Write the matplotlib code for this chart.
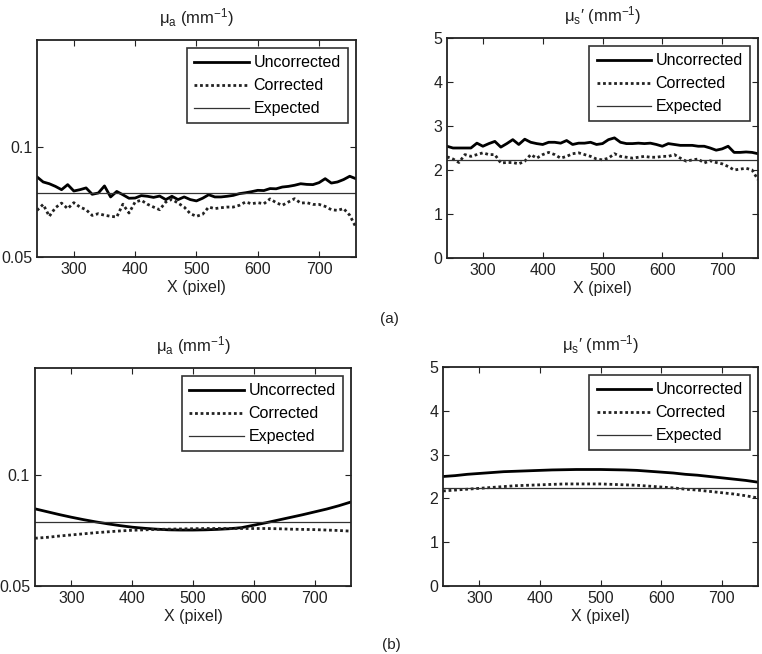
import numpy as np
import matplotlib
matplotlib.use('Agg')
import matplotlib.pyplot as plt

plt.rcParams['font.family'] = ['Liberation Sans', 'DejaVu Sans']
plt.rcParams['mathtext.default'] = 'regular'
plt.rcParams['font.size'] = 11

# (a) measured profiles, sampled every 10 pixels
x_a = np.arange(240, 770, 10)
mua_unc_a = [0.0864, 0.0841, 0.0833, 0.0821, 0.0806, 0.0829, 0.0800, 0.0806, 0.0814, 0.0785,
             0.0791, 0.0823, 0.0773, 0.0798, 0.0783, 0.0767, 0.0768, 0.0779, 0.0776, 0.0771,
             0.0777, 0.0761, 0.0776, 0.0761, 0.0773, 0.0761, 0.0755, 0.0767, 0.0783, 0.0773,
             0.0773, 0.0776, 0.0780, 0.0788, 0.0792, 0.0797, 0.0803, 0.0802, 0.0811, 0.0810,
             0.0818, 0.0821, 0.0826, 0.0833, 0.0830, 0.0829, 0.0838, 0.0856, 0.0836, 0.0841,
             0.0852, 0.0867, 0.0856]
mua_cor_a = [0.0712, 0.0739, 0.0685, 0.0724, 0.0745, 0.0720, 0.0747, 0.0727, 0.0715, 0.0689,
             0.0697, 0.0690, 0.0685, 0.0682, 0.0740, 0.0700, 0.0750, 0.0758, 0.0740, 0.0727,
             0.0715, 0.0750, 0.0762, 0.0745, 0.0727, 0.0697, 0.0685, 0.0694, 0.0727, 0.0720,
             0.0724, 0.0727, 0.0727, 0.0735, 0.0750, 0.0742, 0.0747, 0.0742, 0.0764, 0.0747,
             0.0735, 0.0750, 0.0765, 0.0745, 0.0747, 0.0739, 0.0739, 0.0730, 0.0715, 0.0712,
             0.0720, 0.0690, 0.0636]
mus_unc_a = [2.54, 2.50, 2.50, 2.50, 2.50, 2.61, 2.54, 2.60, 2.65, 2.52,
             2.60, 2.69, 2.58, 2.70, 2.63, 2.60, 2.58, 2.63, 2.63, 2.61,
             2.67, 2.58, 2.61, 2.61, 2.63, 2.58, 2.60, 2.69, 2.73, 2.63,
             2.60, 2.60, 2.61, 2.60, 2.61, 2.58, 2.54, 2.60, 2.58, 2.56,
             2.56, 2.56, 2.54, 2.54, 2.50, 2.45, 2.48, 2.54, 2.40, 2.40,
             2.41, 2.40, 2.37]
mus_cor_a = [2.30, 2.25, 2.17, 2.35, 2.31, 2.35, 2.39, 2.35, 2.35, 2.16,
             2.17, 2.17, 2.14, 2.20, 2.35, 2.27, 2.35, 2.40, 2.35, 2.27,
             2.31, 2.37, 2.39, 2.35, 2.31, 2.25, 2.23, 2.27, 2.37, 2.31,
             2.29, 2.27, 2.29, 2.31, 2.29, 2.29, 2.31, 2.31, 2.35, 2.27,
             2.20, 2.23, 2.25, 2.16, 2.21, 2.17, 2.14, 2.08, 2.00, 2.02,
             2.04, 2.00, 1.78]

# (b) simulated profiles, sampled every 20 pixels
x_b = np.arange(240, 780, 20)
mua_unc_b = [0.0849, 0.0836, 0.0823, 0.0811, 0.0800, 0.0790, 0.0781, 0.0773, 0.0766, 0.0761,
             0.0757, 0.0754, 0.0753, 0.0753, 0.0754, 0.0756, 0.0759, 0.0764, 0.0775, 0.0786,
             0.0798, 0.0810, 0.0822, 0.0835, 0.0848, 0.0863, 0.0880]
mua_cor_b = [0.0716, 0.0720, 0.0726, 0.0731, 0.0736, 0.0741, 0.0745, 0.0749, 0.0752, 0.0754,
             0.0756, 0.0757, 0.0758, 0.0759, 0.0760, 0.0760, 0.0760, 0.0760, 0.0760, 0.0760,
             0.0759, 0.0757, 0.0756, 0.0755, 0.0753, 0.0751, 0.0748]
mus_unc_b = [2.50, 2.52, 2.55, 2.57, 2.59, 2.61, 2.62, 2.63, 2.64, 2.65,
             2.655, 2.66, 2.66, 2.66, 2.655, 2.65, 2.64, 2.62, 2.60, 2.58,
             2.55, 2.53, 2.50, 2.47, 2.44, 2.41, 2.37]
mus_cor_b = [2.17, 2.19, 2.21, 2.23, 2.25, 2.27, 2.29, 2.30, 2.31, 2.32,
             2.33, 2.33, 2.33, 2.33, 2.32, 2.31, 2.30, 2.28, 2.26, 2.24,
             2.21, 2.19, 2.16, 2.13, 2.10, 2.06, 2.01]

mua_expected = 0.079
mus_expected = 2.23

fig = plt.figure(figsize=(7.62, 6.54), dpi=100)

# axes rectangles in figure fractions [left, bottom, width, height]
rects = [[0.0486, 0.607, 0.4184, 0.3318],
         [0.5866, 0.6055, 0.4082, 0.3364],
         [0.0459, 0.104, 0.4147, 0.3333],
         [0.5814, 0.104, 0.4134, 0.3348]]

panels = [(x_a, mua_unc_a, mua_cor_a, mua_expected, 'mua'),
          (x_a, mus_unc_a, mus_cor_a, mus_expected, 'mus'),
          (x_b, mua_unc_b, mua_cor_b, mua_expected, 'mua'),
          (x_b, mus_unc_b, mus_cor_b, mus_expected, 'mus')]

txt = '#222222'
for rect, (x, unc, cor, exp_val, kind) in zip(rects, panels):
    ax = fig.add_axes(rect)
    ax.plot(x, unc, color='black', lw=2.0, label='Uncorrected')
    ax.plot(x, cor, color='#222222', lw=2.0, linestyle=(0, (1, 1)), label='Corrected')
    ax.axhline(exp_val, color='#333333', lw=0.9, label='Expected')
    ax.set_xlim(240, 760)
    ax.set_xticks([300, 400, 500, 600, 700])
    if kind == 'mua':
        ax.set_ylim(0.05, 0.1486)
        ax.set_yticks([0.05, 0.1])
        ax.set_yticklabels(['0.05', '0.1'])
        ax.set_title('$μ_a$ (mm$^{-1}$)', fontsize=12, pad=12, color=txt)
    else:
        ax.set_ylim(0, 5)
        ax.set_yticks([0, 1, 2, 3, 4, 5])
        ax.set_title('$μ_s$′ (mm$^{-1}$)', fontsize=12, pad=12, color=txt)
    ax.set_xlabel('X (pixel)', labelpad=2, fontsize=11.5, color=txt)
    ax.tick_params(direction='in', top=True, right=True, length=4, width=0.8,
                   labelsize=11.5, colors=txt)
    for s in ax.spines.values():
        s.set_linewidth(1.3)
        s.set_color('#222222')
    leg = ax.legend(loc='upper right', fontsize=11.5, frameon=True, fancybox=False,
                    edgecolor='black', handlelength=3.4, borderaxespad=0.5,
                    labelspacing=0.5, handletextpad=0.3, borderpad=0.45)
    leg.get_frame().set_linewidth(1.2)

fig.text(0.511, 0.512, '(a)', ha='center', va='center', fontsize=11, color=txt)
fig.text(0.513, 0.014, '(b)', ha='center', va='center', fontsize=11, color=txt)

fig.savefig('out.png', dpi=100)
